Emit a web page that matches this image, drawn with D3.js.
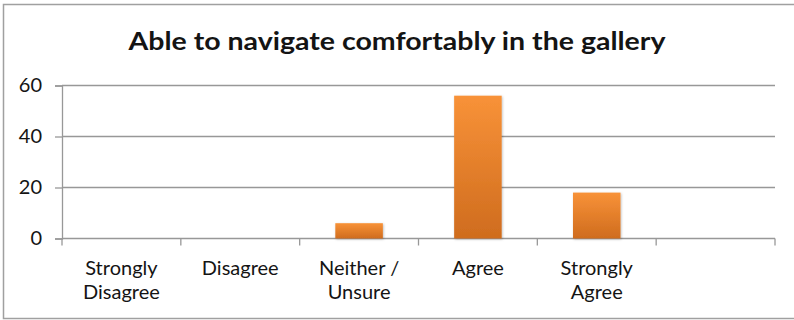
<!DOCTYPE html>
<html>
<head>
<meta charset="utf-8">
<script src="https://cdn.jsdelivr.net/npm/d3@7/dist/d3.min.js"></script>
<style>
  html, body { margin: 0; padding: 0; background: #fff; }
  svg { display: block; }
  text { font-family: Lato, "Open Sans", sans-serif; fill: #141414; }
</style>
</head>
<body>
<svg id="chart" width="794" height="320"></svg>
<script>
// Survey responses
const categories = ["Strongly Disagree", "Disagree", "Neither / Unsure", "Agree", "Strongly Agree", ""];
const labelLines = [["Strongly", "Disagree"], ["Disagree"], ["Neither /", "Unsure"], ["Agree"], ["Strongly", "Agree"], []];
const counts = [0, 0, 6, 56, 18, null];
const yTicks = [0, 20, 40, 60];
const chartTitle = "Able to navigate comfortably in the gallery";

const svg = d3.select("#chart");
const W = 794, H = 320;
const plot = { left: 62, right: 775, top: 85.5, bottom: 238.5 };

// Outer frame
svg.append("rect")
  .attr("x", 3.5).attr("y", 4.5)
  .attr("width", W).attr("height", H - 6)
  .attr("fill", "none").attr("stroke", "#a0a0a0").attr("stroke-width", 1.5);

// Gradient for the bars
const defs = svg.append("defs");
const grad = defs.append("linearGradient").attr("id", "barGrad")
  .attr("x1", 0).attr("y1", 0).attr("x2", 0).attr("y2", 1);
grad.append("stop").attr("offset", "0%").attr("stop-color", "#f89238");
grad.append("stop").attr("offset", "100%").attr("stop-color", "#cf6c1e");
const shadow = defs.append("filter").attr("id", "barShadow")
  .attr("x", "-20%").attr("y", "-20%").attr("width", "140%").attr("height", "140%");
shadow.append("feDropShadow").attr("dx", 0.8).attr("dy", 0.8)
  .attr("stdDeviation", 1).attr("flood-color", "#000").attr("flood-opacity", 0.25);

// Title
svg.append("text")
  .attr("x", 397).attr("y", 50)
  .attr("text-anchor", "middle")
  .attr("font-size", 25).attr("font-weight", 700)
  .attr("textLength", 537).attr("lengthAdjust", "spacingAndGlyphs")
  .text(chartTitle);

const x = d3.scaleBand()
  .domain(categories.map((d, i) => i))
  .range([plot.left, plot.right])
  .paddingInner(0.6).paddingOuter(0.3);

const y = d3.scaleLinear().domain([0, 60]).range([plot.bottom, plot.top]);

// Horizontal gridlines
svg.append("g").selectAll("line")
  .data(yTicks.filter(t => t > 0))
  .join("line")
  .attr("x1", plot.left).attr("x2", plot.right)
  .attr("y1", d => y(d)).attr("y2", d => y(d))
  .attr("stroke", "#989898").attr("stroke-width", 1.3);

// Y axis
const yAxis = d3.axisLeft(y).tickValues(yTicks).tickSize(7).tickPadding(13);
const gy = svg.append("g").attr("transform", `translate(${plot.left},0)`).call(yAxis);
gy.select(".domain").attr("stroke", "#989898").attr("stroke-width", 1.3);
gy.selectAll(".tick line").attr("stroke", "#989898").attr("stroke-width", 1.3);
gy.selectAll(".tick text")
  .attr("font-size", 20).attr("font-family", "Lato, sans-serif").attr("fill", "#141414");

// X axis baseline and category boundary ticks
const step = x.step();
const bounds = d3.range(categories.length + 1).map(i => plot.left + i * step);
svg.append("line")
  .attr("x1", plot.left).attr("x2", plot.right)
  .attr("y1", y(0)).attr("y2", y(0))
  .attr("stroke", "#989898").attr("stroke-width", 1.3);
svg.append("g").selectAll("line")
  .data(bounds)
  .join("line")
  .attr("x1", d => d).attr("x2", d => d)
  .attr("y1", y(0)).attr("y2", y(0) + 7)
  .attr("stroke", "#989898").attr("stroke-width", 1.3);

// Bars
svg.append("g").selectAll("rect")
  .data(counts.map((v, i) => ({ v, i })).filter(d => d.v))
  .join("rect")
  .attr("x", d => x(d.i))
  .attr("width", x.bandwidth())
  .attr("y", d => y(d.v))
  .attr("height", d => y(0) - y(d.v))
  .attr("fill", "url(#barGrad)")
  .attr("filter", "url(#barShadow)");

// Category labels
const lab = svg.append("g").selectAll("text")
  .data(labelLines.map((lines, i) => ({ lines, i })))
  .join("text")
  .attr("text-anchor", "middle")
  .attr("font-size", 20);
lab.selectAll("tspan")
  .data(d => d.lines.map(l => ({ l, cx: x(d.i) + x.bandwidth() / 2 })))
  .join("tspan")
  .attr("x", d => d.cx)
  .attr("y", (d, k) => 275 + k * 24)
  .text(d => d.l);
</script>
</body>
</html>
